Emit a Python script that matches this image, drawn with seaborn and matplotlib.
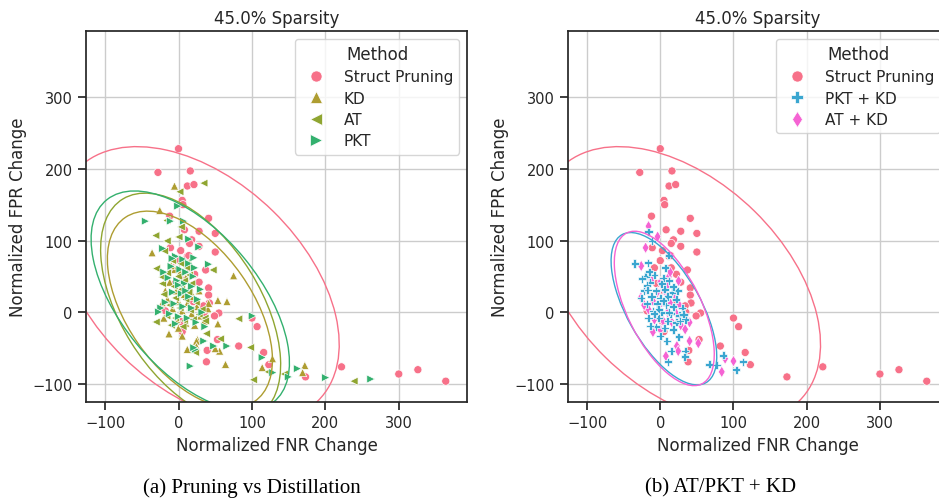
import numpy as np
import pandas as pd
import seaborn as sns
import matplotlib
matplotlib.use("Agg")
import matplotlib.pyplot as plt
from matplotlib.patches import Ellipse

sns.set_theme(style="ticks", context="notebook", rc={"axes.grid": True})
plt.rcParams['font.family'] = ['DejaVu Sans']
plt.rcParams['xtick.labelsize'] = 10.5
plt.rcParams['ytick.labelsize'] = 10.5

# ---------------- data ----------------
struct_x = [0, -28, 16, 12, 21, 5, 6, 41, -12, 8, 28, 50, 18, 15, 28, 50, -11, 3, 12, 14,
            37, 22, 41, 41, 42, 34, 55, 49, 35, 100, 107, 53, 82, 39, 38, 116, 123, 173,
            222, 300, 326, 364, 9, 15, -18, 0, 5, -5, 20, 28, -8, 5, 3]
struct_y = [228, 195, 197, 176, 178, 156, 150, 131, 134, 115, 113, 110, 101, 96, 92, 84, 90, 86, 78, 79,
            59, 53, 34, 24, 13, 9, -1, -5, 0, -8, -20, -38, -47, -53, -69, -56, -73, -90,
            -76, -86, -80, -96, 46, 62, 2, 72, 30, 40, 15, 42, 62, -27, -13]

kd_x = [-5, 2, 10, -12, 5, 15, -3, 8, 20, -15, 0, 12, 25, -8, 5, 18, 30, -20, -2, 10, 22, 35, -10, 15,
        0, 28, -18, 40,
        -5.5, -25.5, -36, 75, 53.6, 66, 41, 53.6, -22, -13, 5, 25.5, 12, 64, 114, 128, 24.5, 24.5,
        172, 169, 56, 50]
kd_y = [60, 55, 48, 42, 40, 35, 30, 25, 22, 18, 15, 12, 8, 5, 2, -2, -5, -8, -10, -15, -18, -12, 65, 70,
        -22, 30, 30, 5,
        176, 142, 83, 51, 16.7, 15, 12.6, -16, 13.5, -30, -33, -37.7, -51.6, -72.5, -77, -64.6, -40, -47.7,
        -74, -84, -54, -50.6]

at_x = [-8, 3, 12, -15, 0, 8, 18, -6, 4, 14, -20, -4, 10, 24, -12, 2, 16, 28, -16, -4, 8, 20, 32, -22,
        6, 15, -10, 36,
        34.5, 1.8, -16, 3.7, -31, 0.5, -15.5, -19, -30, -22, 47, 82, 98, 57, 38, 36.7, 102, 144, 23,
        -30.5, 239, 122]
at_y = [72, 68, 62, 55, 50, 44, 40, 36, 32, 28, 25, 20, 18, 14, 10, 6, 3, -3, -5, -8, -12, -10, 4, 40,
        -20, 52, -18, -8,
        180, 168, 128, 119, 107, 105, 99.5, 85.5, 61, 49, 59, -9, -49, -37, -29.7, -12, -94, -86, -56,
        -13.5, -96, -83]

pkt_x = [-4, 6, 14, -10, 2, 10, 20, -14, -2, 8, 18, 30, -8, 4, 14, 26, -18, -6, 6, 18, 32, -12, 0, 12,
         24, -24, 36, -4, 10, 0, 22,
         -1, -45, -11, 7, 14, 27.7, -21.5, 21, -8.6, 41, -20, 100.5, 66, 34.5, 16, 114, 128.5, -27, 23,
         162, 149.6, 200.5, 262, 48, 20.9]
pkt_y = [78, 74, 68, 64, 60, 56, 50, 48, 44, 40, 36, 32, 28, 26, 22, 18, 14, 12, 8, 6, 0, -2, -6, -8,
         -14, 6, -20, -16, 30, 38, 62,
         148, 127, 127, 127, 102, 91, 89, 76, 75, 67, 56, -5, -47, -40, -75, -63, -84, 0.5, -51.6,
         -78.5, -90, -91, -93, -47, -49.3]

pktkd_x = [-20, -8, 4, -14, 2, 12, -22, -6, 6, 16, -12, 0, 10, 22, -18, -4, 8, 18, 30, -10, 2, 14, 26,
           -16, -2, 10, 22, 34, -6, 6, 18, -2, 4, 12, -8, 24, -26,
           -16, -11.4, -35, -16.8, -15, 6.8, 11.4, -25, -18, -17, 18, 31.8, 27, -13.6, 0, 9, 25, 15,
           10.5, 34, 33.5, 67, 77, 86, 103.7, 112.8]
pktkd_y = [50, 52, 48, 42, 40, 44, 30, 30, 32, 28, 22, 20, 22, 18, 12, 12, 10, 8, 6, 2, 0, -2, -4,
           -8, -8, -12, -14, -10, -20, -22, -24, 4, 16, 0, -2, 30, 20,
           112.5, 99.5, 68, 69, 56.7, 62, 79.5, 47, 37.7, 31, 35.8, -2.8, -12, -19, -33, -40, -34, -54,
           -69, -54, -62, -72.5, -73.5, -60, -80, -69]

atkd_x = [-12, 0, 10, -18, -4, 8, 20, -10, 2, 14, 26, -16, -2, 10, 22, 34, -8, 4, 16, 28, 0, 12, -22, 40,
          -16, -3.6, -26, 13.6, 25, -26.4, 6, -10, 22.7, 24.5, 7.7, 52, 34, 84, 88.6, 100, -20, 40]
atkd_y = [45, 42, 38, 32, 28, 26, 24, 16, 14, 12, 10, 4, 2, 0, -2, -6, -10, -12, -14, -18, -24, 50, 10, -14,
          120, 105.5, 64.6, 56, 43.7, 20.5, 31, -27.4, -47, -54, -61, -43, -23.7, -83, -64.6, -68, 90, -40]

# confidence ellipses (centre, full width, full height, angle in degrees), data units
ellipse_method = ["Struct Pruning", "KD", "AT", "PKT", "PKT + KD", "AT + KD"]
ellipse_cx = [27, 15.5, 16.5, 16, 5, 5.5]
ellipse_cy = [39, 4, 7.5, 16, 5, 5.4]
ellipse_w = [460, 311, 353, 362, 236, 234]
ellipse_h = [288, 170, 190, 189, 101, 101]
ellipse_angle = [-45, -55.6, -58.6, -51.3, -61.1, -64.2]

palette = {"Struct Pruning": "#f77189", "KD": "#ae9d31", "AT": "#8fa531", "PKT": "#33b06e",
           "PKT + KD": "#3aa6d0", "AT + KD": "#f563d3"}
markers = {"Struct Pruning": "o", "KD": "^", "AT": "<", "PKT": ">", "PKT + KD": "P", "AT + KD": "d"}

series = {"Struct Pruning": (struct_x, struct_y), "KD": (kd_x, kd_y), "AT": (at_x, at_y),
          "PKT": (pkt_x, pkt_y), "PKT + KD": (pktkd_x, pktkd_y), "AT + KD": (atkd_x, atkd_y)}


def frame(methods):
    parts = []
    for m in methods:
        xs, ys = series[m]
        parts.append(pd.DataFrame({"fnr": xs, "fpr": ys, "Method": m}))
    return pd.concat(parts, ignore_index=True)


fig = plt.figure(figsize=(9.39, 5.02), dpi=100)
ax1 = fig.add_axes([0.0916, 0.1972, 0.4058, 0.7390])
ax2 = fig.add_axes([0.6049, 0.1972, 0.4047, 0.7390])

# (axis, legend order, drawing order)
panels = [(ax1, ["Struct Pruning", "KD", "AT", "PKT"], ["Struct Pruning", "KD", "AT", "PKT"]),
          (ax2, ["Struct Pruning", "PKT + KD", "AT + KD"], ["Struct Pruning", "AT + KD", "PKT + KD"])]

for ax, methods, draw_order in panels:
    df = frame(draw_order)
    sns.scatterplot(data=df, x="fnr", y="fpr", hue="Method", style="Method",
                    hue_order=methods, style_order=methods,
                    palette=palette, markers=markers, s=34, linewidth=0.5,
                    edgecolor="white", ax=ax)
    for m, cx, cy, w, h, a in zip(ellipse_method, ellipse_cx, ellipse_cy,
                                  ellipse_w, ellipse_h, ellipse_angle):
        if m in methods:
            ax.add_patch(Ellipse((cx, cy), w, h, angle=a, fill=False,
                                 edgecolor=palette[m], linewidth=1.0))
    ax.set_xlim(-126, 393)
    ax.set_ylim(-125, 392)
    ax.set_xticks([-100, 0, 100, 200, 300])
    ax.set_yticks([-100, 0, 100, 200, 300])
    ax.set_xlabel("Normalized FNR Change", fontsize=12)
    ax.set_ylabel("Normalized FPR Change", fontsize=12)
    ax.set_title("45.0% Sparsity", fontsize=12)
    sns.move_legend(ax, "upper right", title="Method", fontsize=11, title_fontsize=12,
                    labelspacing=0.42)
    leg = ax.get_legend()
    for h in leg.legend_handles:
        if hasattr(h, "set_markersize"):
            h.set_markersize(8)
        elif hasattr(h, "set_sizes"):
            h.set_sizes([64])

fig.text(0.268, 0.028, "(a) Pruning vs Distillation", family="Liberation Serif",
         fontsize=15, ha="center", va="center", color="black")
fig.text(0.767, 0.028, "(b) AT/PKT + KD", family="Liberation Serif",
         fontsize=15, ha="center", va="center", color="black")

fig.savefig("out.png", dpi=100)
